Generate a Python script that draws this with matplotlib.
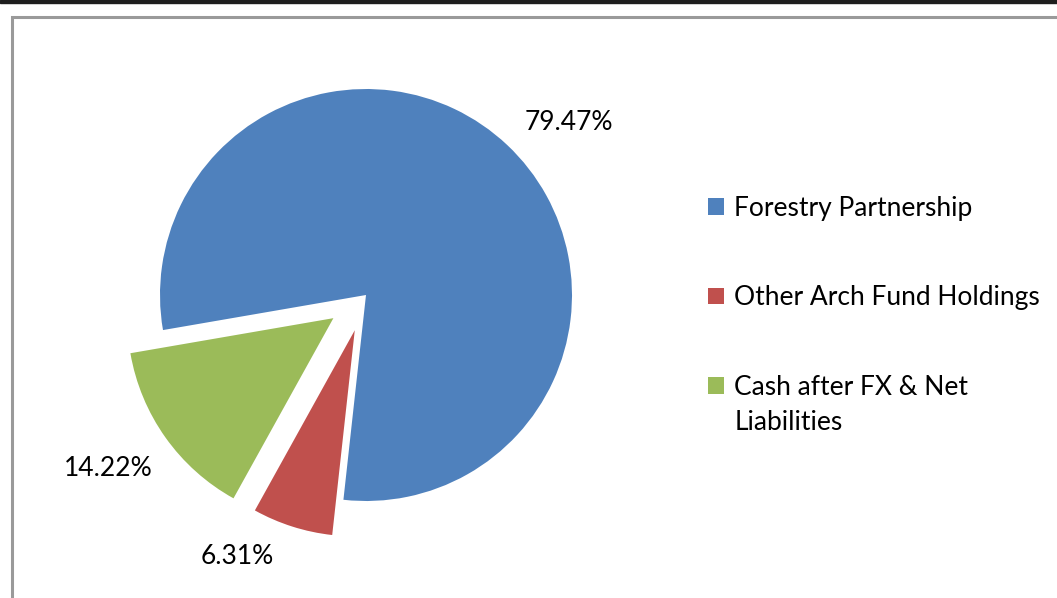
import matplotlib
matplotlib.use("Agg")
from matplotlib import pyplot as plt, patches

# data
labels = ['Forestry Partnership', 'Other Arch Fund Holdings', 'Cash after FX & Net\nLiabilities']
shares = [79.47, 6.31, 14.22]
colors = ['#4F81BD', '#C0504D', '#9BBB59']

W, H = 1057, 598
fs = 19
plt.rcParams['font.family'] = ['Lato', 'DejaVu Sans']

fig = plt.figure(figsize=(W / 100, H / 100), dpi=100)
ax = fig.add_axes([0, 0, 1, 1])

# pie in pixel units (y measured from bottom)
center = (366, H - 295)
radius = 206
wedges, _ = ax.pie(shares, colors=colors, startangle=189.8, counterclock=False,
                   explode=[0, 37, 40], center=center, radius=radius,
                   wedgeprops=dict(linewidth=0))
ax.set_xlim(0, W)
ax.set_ylim(0, H)
ax.set_aspect('auto')
ax.axis('off')

# percentage labels
label_pos = [(569, 123), (237, 557), (108, 468)]
for v, (px, py) in zip(shares, label_pos):
    ax.text(px, H - py, "{:.2f}%".format(v), ha='center', va='center', fontsize=fs, color='black')

# legend: first line of each label next to the square, the rest underneath
first_lines = [l.split('\n')[0] for l in labels]
leg = ax.legend(wedges, first_lines, loc='upper left', bbox_to_anchor=(684 / W, 1 - 172 / H),
                frameon=False, fontsize=fs, handlelength=0.6, handleheight=0.6,
                handletextpad=0.4, labelspacing=2.45)
fig.canvas.draw()
for lab, t in zip(labels, leg.get_texts()):
    rest = lab.split('\n')[1:]
    if rest:
        bb = t.get_window_extent()
        ax.text(bb.x0, bb.y0 - 35, '\n'.join(rest), transform=None, fontsize=fs,
                ha='left', va='bottom', color='black')

# frame bits
fig.patches.append(patches.Rectangle((0, H - 3), W, 3, transform=None, color='#1e1e1e'))
fig.patches.append(patches.Rectangle((12, -10), W + 20, H - 17 + 10, transform=None,
                                     fill=False, edgecolor='#9a9a9a', linewidth=2.2))

fig.savefig('out.png', dpi=100)
